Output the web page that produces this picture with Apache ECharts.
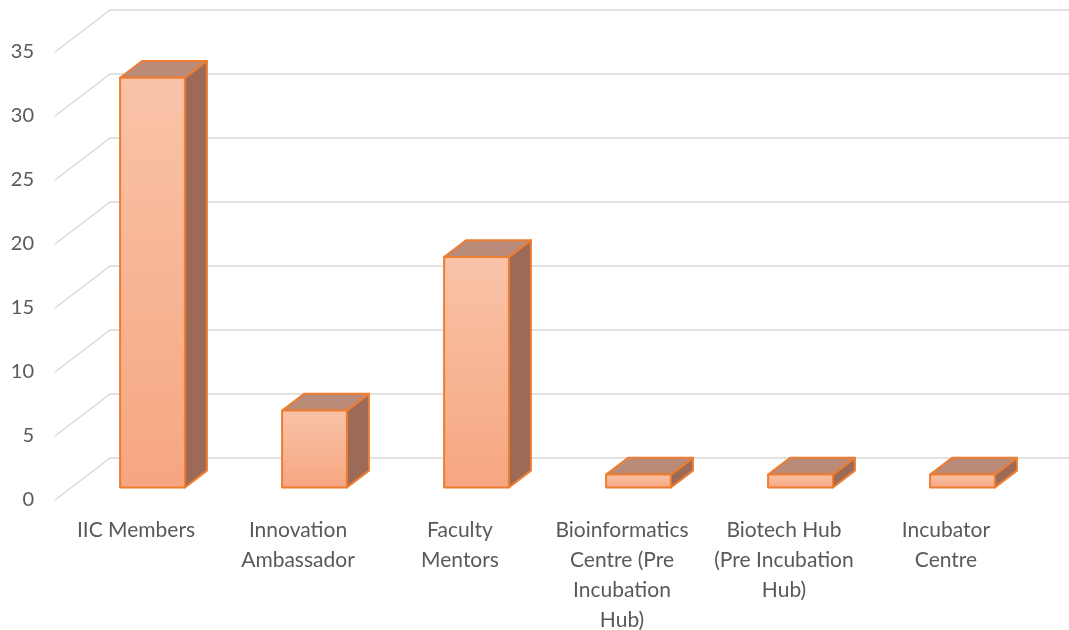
<!DOCTYPE html>
<html>
<head>
<meta charset="utf-8">
<script src="https://cdn.jsdelivr.net/npm/echarts@6/dist/echarts.min.js"></script>
<style>
  html, body { margin: 0; padding: 0; background: #fff; }
  #main { width: 1069px; height: 630px; }
</style>
</head>
<body>
<div id="main"></div>
<script>
const categories = [
  "IIC Members",
  "Innovation\nAmbassador",
  "Faculty\nMentors",
  "Bioinformatics\nCentre (Pre\nIncubation\nHub)",
  "Biotech Hub\n(Pre Incubation\nHub)",
  "Incubator\nCentre",
];
const counts = [32, 6, 18, 1, 1, 1];
const yTicks = [0, 5, 10, 15, 20, 25, 30, 35];

// offset from the front plane to the back wall (fake 3d)
const DX = 55, DY = -42;

var myChart = echarts.init(document.getElementById("main"));

function renderBar(params, api) {
  const i = api.value(0);
  const v = api.value(1);
  const base = api.coord([i, 0]);
  const top = api.coord([i, v]);
  const band = api.size([1, 0])[0];
  const w = band * 0.4;
  // bar sits between 30% and 70% of the depth
  const x0 = base[0] - w / 2 + DX * 0.3;
  const x1 = x0 + w;
  const yb = base[1] + DY * 0.3;
  const yt = top[1] + DY * 0.3;
  const ox = DX * 0.4, oy = DY * 0.4;
  const stroke = { stroke: "#ED7D31", lineWidth: 2, lineJoin: "round" };
  return {
    type: "group",
    children: [
      {
        type: "polygon",
        shape: { points: [[x1, yb], [x1 + ox, yb + oy], [x1 + ox, yt + oy], [x1, yt]] },
        style: Object.assign({ fill: "#9C6A56" }, stroke),
      },
      {
        type: "polygon",
        shape: { points: [[x0, yt], [x1, yt], [x1 + ox, yt + oy], [x0 + ox, yt + oy]] },
        style: Object.assign({ fill: "#BA8B78" }, stroke),
      },
      {
        type: "rect",
        shape: { x: x0, y: yt, width: w, height: yb - yt },
        style: Object.assign({
          fill: new echarts.graphic.LinearGradient(0, 0, 0, 1, [
            { offset: 0, color: "#F9C3A8" },
            { offset: 1, color: "#F6A680" },
          ]),
        }, stroke),
      },
    ],
  };
}

function renderDiagonal(params, api) {
  const p = api.coord([0, api.value(1)]);
  const band = api.size([1, 0])[0];
  const x = p[0] - band / 2;
  return {
    type: "line",
    shape: { x1: x, y1: p[1], x2: x + DX, y2: p[1] + DY },
    style: { stroke: "#D9D9D9", lineWidth: 1.5 },
  };
}

var option = {
  animation: false,
  grid: [
    { left: 55, right: 42, top: 52, bottom: 130, outerBoundsMode: "none", containLabel: false },
    // back wall
    { left: 110, right: 0, top: 10, bottom: 172, outerBoundsMode: "none", containLabel: false },
  ],
  xAxis: [
    {
      type: "category",
      gridIndex: 0,
      data: categories,
      axisLine: { show: false },
      axisTick: { show: false },
      axisLabel: {
        color: "#595959",
        fontFamily: "Lato",
        fontSize: 21,
        lineHeight: 30,
        margin: 15,
        interval: 0,
      },
    },
    { type: "category", gridIndex: 1, show: false, data: categories },
  ],
  yAxis: [
    {
      type: "value",
      gridIndex: 0,
      min: 0,
      max: 35,
      interval: 5,
      axisLine: { show: false },
      axisTick: { show: false },
      splitLine: { show: false },
      axisLabel: { color: "#595959", fontFamily: "Lato", fontSize: 20, margin: 21 },
    },
    {
      type: "value",
      gridIndex: 1,
      min: 0,
      max: 35,
      interval: 5,
      axisLine: { show: false },
      axisTick: { show: false },
      axisLabel: { show: false },
      splitLine: { show: true, lineStyle: { color: "#D9D9D9", width: 1.5 } },
    },
  ],
  series: [
    {
      type: "custom",
      xAxisIndex: 0,
      yAxisIndex: 0,
      clip: false,
      silent: true,
      renderItem: renderDiagonal,
      data: yTicks.map((v) => [0, v]),
      z: 1,
    },
    {
      type: "custom",
      xAxisIndex: 0,
      yAxisIndex: 0,
      clip: false,
      renderItem: renderBar,
      data: counts.map((v, i) => [i, v]),
      z: 5,
    },
  ],
};

option && myChart.setOption(option);
</script>
</body>
</html>
